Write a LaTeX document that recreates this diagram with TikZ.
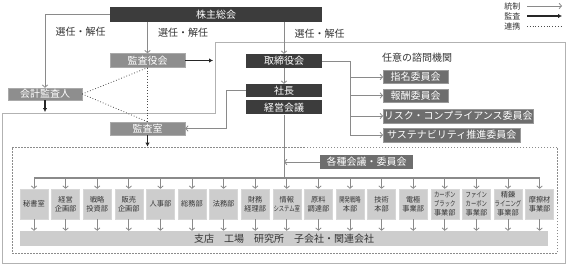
\documentclass[tikz,border=0pt]{standalone}
\usepackage{fontspec}
\setmainfont{Noto Sans CJK JP}
\usepackage{graphicx}
\usepackage{xcolor}
\usepackage{tikz}
\usetikzlibrary{positioning,arrows.meta,calc}
\definecolor{kuro}{HTML}{3C3C3C}
\definecolor{naka}{HTML}{8E8E8E}
\definecolor{iinkai}{HTML}{6E6E6E}
\definecolor{usui}{HTML}{CDCDCD}
\definecolor{sen}{HTML}{8A8A8A}
\newcommand\semai[1]{\scalebox{0.74}[1]{#1}}

\begin{document}
\begin{tikzpicture}[x=1pt, y=-1pt, font=\fontsize{10}{11}\selectfont, text=black!80,
  box/.style={inner sep=0pt, text=white, minimum height=14pt},
  dark/.style={box, fill=kuro},
  mid/.style={box, fill=naka, draw=naka!75!white},
  iin/.style={box, fill=iinkai, draw=iinkai!70!white, anchor=west, minimum height=13pt},
  dept/.style={fill=usui, draw=usui!80!white, align=center, inner sep=0pt,
    minimum width=28pt, minimum height=30pt, font=\fontsize{7.2}{9}\selectfont},
  arr/.style={draw=sen, line width=0.8pt, -{Straight Barb[length=2.4pt,width=5.5pt]}},
  audit/.style={draw=black!85, line width=1.3pt, -{Latex[length=4pt,width=4.5pt]}},
  link/.style={draw=black!70, line width=0.8pt, dotted}]
\useasboundingbox (0,0) rectangle (568,265);
% outer frame
\draw[draw=black!30, line width=0.9pt] (2,113) -- (215,113) -- (215,42) -- (565,42) -- (565,263) -- (2,263) -- cycle;
\node[draw=black!45, dash pattern=on 1.5pt off 1.5pt, line width=0.7pt, minimum width=545pt, minimum height=106pt] (honbu) at (284.5,200) {};
% top
\node[dark, minimum width=212pt, minimum height=15pt] (soukai) at (216,14.5) {株主総会};
\node[mid, minimum width=75pt] (kansayaku) at (147.5,60.5) {監査役会};
\node[dark, minimum width=76pt] (torishimari) at (284,61) {取締役会};
\node[dark, minimum width=76pt, minimum height=13pt] (shacho) at (284,90.5) {社長};
\node[dark, minimum width=76pt, below=3pt of shacho] (keiei) {経営会議};
\node[mid, minimum width=74pt, minimum height=12pt] (kaikei) at (45,94) {会計監査人};
\node[mid, minimum width=75pt, minimum height=13pt] (kansashitsu) at (147.5,128.5) {監査室};
% committees
\node[anchor=west, inner sep=0pt] (shimon) at (382,58) {任意の諮問機関};
\node[iin, minimum width=65pt] (shimei) at (383,77) {指名委員会};
\node[iin, minimum width=65pt] (hoshu) at (383,95.5) {報酬委員会};
\node[iin, minimum width=150pt, minimum height=14pt] (risk) at (383,116) {リスク・コンプライアンス委員会};
\node[iin, minimum width=137pt, minimum height=14pt] (sust) at (383,135) {サステナビリティ推進委員会};
\node[box, fill=iinkai, minimum width=93pt] (kakushu) at (366.5,162) {各種会議・委員会};
% departments
\node[dept] (hisho) at (34,204) {秘書室};
\node[dept, right=3.2pt of hisho] (keikaku) {経営\\企画部};
\node[dept, right=3.2pt of keikaku] (senryaku) {戦略\\投資部};
\node[dept, right=3.2pt of senryaku] (hanbai) {販売\\企画部};
\node[dept, right=3.2pt of hanbai] (jinji) {人事部};
\node[dept, right=3.2pt of jinji] (soumu) {総務部};
\node[dept, right=3.2pt of soumu] (houmu) {法務部};
\node[dept, right=3.2pt of houmu] (zaimu) {財務\\経理部};
\node[dept, right=3.2pt of zaimu] (jouhou) {情報\\\semai{システム室}};
\node[dept, right=3.2pt of jouhou] (genryou) {原料\\調達部};
\node[dept, right=3.2pt of genryou] (kaihatsu) {\semai{開発戦略}\\本部};
\node[dept, right=3.2pt of kaihatsu] (gijutsu) {技術\\本部};
\node[dept, right=3.2pt of gijutsu] (denkyoku) {電極\\事業部};
\node[dept, right=3.2pt of denkyoku] (black) {\semai{カーボン}\\\semai{ブラック}\\事業部};
\node[dept, right=3.2pt of black] (fine) {\semai{ファイン}\\\semai{カーボン}\\事業部};
\node[dept, right=3.2pt of fine] (seiren) {精錬\\\semai{ライニング}\\事業部};
\node[dept, right=3.2pt of seiren] (masatsu) {摩擦材\\事業部};
\node[fill=usui, inner sep=0pt, minimum width=528pt, minimum height=15pt] (kyoten) at (284,238.5) {支店　工場　研究所　子会社・関連会社};
% legend
\node[anchor=east, font=\fontsize{8}{9}\selectfont] (tousei) at (524,6) {統制};
\node[anchor=east, font=\fontsize{8}{9}\selectfont] (kansa) at (524,16) {監査};
\node[anchor=east, font=\fontsize{8}{9}\selectfont] (renkei) at (524,26) {連携};
\draw[arr] ([xshift=3pt]tousei.east) -- ++(35,0);
\draw[audit] ([xshift=3pt]kansa.east) -- ++(35,0);
\draw[link] ([xshift=3pt]renkei.east) -- ++(35,0);
% connectors
\coordinate (bus) at (0,178);
\coordinate (kansaend) at (213,60.5);
\coordinate (waku) at (0,112);
\coordinate[right=28pt of torishimari.east] (bunki);
\draw[arr] (soukai.west) -| node[pos=0.62, right=7pt] {選任・解任} (kaikei.north);
\draw[arr] (soukai.south -| kansayaku.north) -- node[pos=0.35, right=7pt] {選任・解任} (kansayaku.north);
\draw[arr] (soukai.south -| torishimari.north) -- node[pos=0.35, right=7pt] {選任・解任} (torishimari.north);
\draw[arr] (torishimari) -- (shacho);
\draw[audit] (kansayaku.east) -- (kansaend);
\draw[audit] (kaikei.south) -- (kaikei.south |- waku);
\draw[audit] (kansashitsu.south) -- (kansashitsu.south |- honbu.north);
\draw[link] (kaikei.east) -- (kansayaku.south);
\draw[link] (kaikei.east) -- (kansashitsu.north);
\draw[link] (kansayaku.south) -- (kansashitsu.north);
\draw[arr] (shacho.west) -- ++(-19,0) |- (kansashitsu.east);
\draw[draw=sen, line width=0.8pt] (torishimari.east) -- (bunki);
\foreach \n in {shimei,hoshu,risk,sust} \draw[arr] (bunki) |- (\n.west);
\draw[draw=sen, line width=0.8pt] (keiei.south) -- (keiei.south |- bus);
\draw[arr] (kakushu.west) -- (kakushu.west -| keiei.south);
\draw[draw=sen, line width=1.4pt] (hisho.north |- bus) -- (masatsu.north |- bus);
\foreach \n in {hisho,keikaku,senryaku,hanbai,jinji,soumu,houmu,zaimu,jouhou,genryou,kaihatsu,gijutsu,denkyoku,black,fine,seiren,masatsu}{
  \draw[arr] (\n.north |- bus) -- (\n.north);
  \draw[arr] (\n.south) -- (\n.south |- kyoten.north);
}
\end{tikzpicture}
\end{document}
